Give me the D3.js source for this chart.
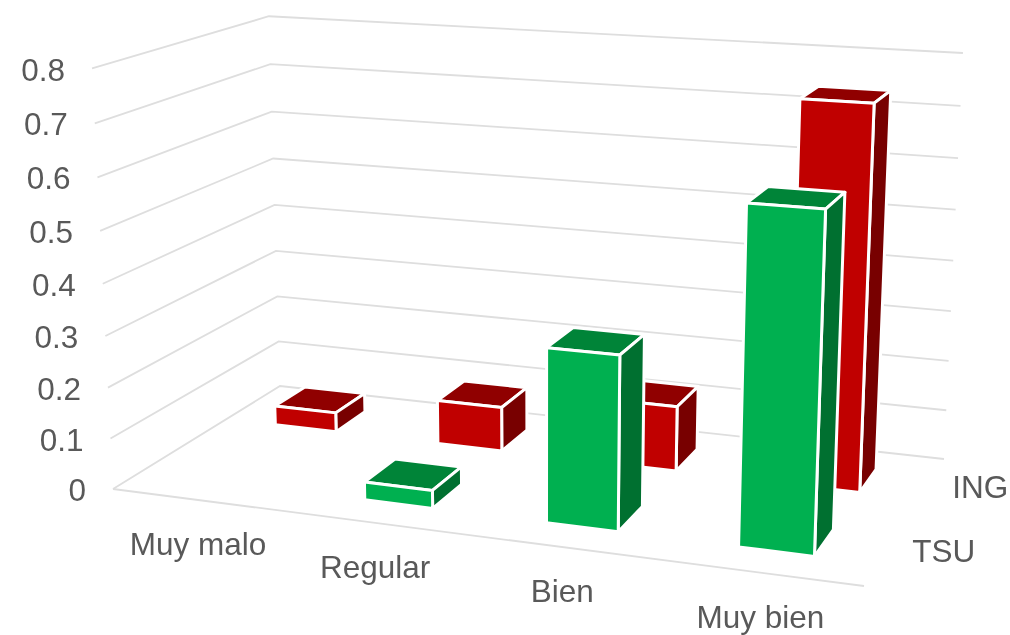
<!DOCTYPE html>
<html>
<head>
<meta charset="utf-8">
<script src="https://cdn.jsdelivr.net/npm/d3@7"></script>
<style>
  html, body { margin: 0; padding: 0; background: white; }
  svg { filter: blur(0.5px); }
  text { font-family: 'Liberation Sans', Arial, sans-serif; font-size: 31.5px; fill: #595959; }
</style>
</head>
<body>
<div id="chart"></div>
<script>
const categories = ['Muy malo', 'Regular', 'Bien', 'Muy bien']
const seriesNames = ['TSU', 'ING']
const tsuValues = [0, 0.035, 0.33, 0.62]
const ingValues = [0.04, 0.09, 0.13, 0.74]
const tickValues = [0, 0.1, 0.2, 0.3, 0.4, 0.5, 0.6, 0.7, 0.8]

const width = 1010
const height = 635

const seriesColors = {
  TSU: { front: '#00b050', top: '#008438', side: '#007030' },
  ING: { front: '#c00000', top: '#900000', side: '#780000' }
}

const svg = d3
  .select('#chart')
  .append('svg')
  .attr('width', width)
  .attr('height', height)
  .style('display', 'block')

// plain gaussian elimination, good enough for these small systems
function solve(A, b) {
  const m = A.map((row, i) => [...row, b[i]])
  const n = b.length
  for (let i = 0; i < n; i++) {
    let best = i
    for (let r = i + 1; r < n; r++) {
      if (Math.abs(m[r][i]) > Math.abs(m[best][i])) best = r
    }
    ;[m[i], m[best]] = [m[best], m[i]]
    for (let r = 0; r < n; r++) {
      if (r === i) continue
      const f = m[r][i] / m[i][i]
      for (let c = i; c <= n; c++) m[r][c] -= f * m[i][c]
    }
  }
  return m.map((row, i) => row[n] / row[i])
}

// camera: floor corners and wall tops as they sit on the screen
const floorCorners = [
  [0, 0, 113, 489],
  [1, 0, 864, 586],
  [1, 1, 944, 459],
  [0, 1, 280, 386]
]
const topCorners = [
  [0, 0, 93, 70],
  [0, 1, 268, 14],
  [1, 1, 963, 54]
]

const floorA = []
const floorB = []
floorCorners.forEach(([u, w, X, Y]) => {
  floorA.push([u, w, 1, 0, 0, 0, -X * u, -X * w])
  floorB.push(X)
  floorA.push([0, 0, 0, u, w, 1, -Y * u, -Y * w])
  floorB.push(Y)
})
const H = solve(floorA, floorB)
const floorHomog = (u, w) => [
  H[0] * u + H[1] * w + H[2],
  H[3] * u + H[4] * w + H[5],
  H[6] * u + H[7] * w + 1
]

// vertical column of the projection, least squares over the wall tops
const rows = []
const rhs = []
topCorners.forEach(([u, w, X, Y]) => {
  const n = floorHomog(u, w)
  rows.push([1, 0, -X])
  rhs.push(X * n[2] - n[0])
  rows.push([0, 1, -Y])
  rhs.push(Y * n[2] - n[1])
})
const ata = [0, 1, 2].map(i => [0, 1, 2].map(j => d3.sum(rows, r => r[i] * r[j])))
const atb = [0, 1, 2].map(i => d3.sum(rows, (r, k) => r[i] * rhs[k]))
const V = solve(ata, atb)

function project(u, w, v) {
  const n = floorHomog(u, w)
  const z = n[2] + v * V[2]
  return [(n[0] + v * V[0]) / z, (n[1] + v * V[1]) / z]
}

const uScale = d3
  .scaleBand()
  .domain(categories)
  .range([0, 1])
  .paddingInner(0.62)
  .paddingOuter(0.31)

const wScale = d3
  .scaleBand()
  .domain(seriesNames)
  .range([0, 1])
  .paddingInner(0.6)
  .paddingOuter(0.3)

const vScale = d3
  .scaleLinear()
  .domain([0, 0.8])
  .range([0, 1])

const line = d3.line()

// gridlines
const grid = svg.append('g')
grid
  .selectAll('path')
  .data(tickValues)
  .enter()
  .append('path')
  .attr('d', d => {
    const v = vScale(d)
    return line([project(0, 0, v), project(0, 1, v), project(1, 1, v)])
  })
  .attr('fill', 'none')
  .attr('stroke', '#dedede')
  .attr('stroke-width', 1.8)

grid
  .append('path')
  .attr('d', line([project(0, 0, 0), project(1, 0, 0)]))
  .attr('fill', 'none')
  .attr('stroke', '#dedede')
  .attr('stroke-width', 1.8)

// bars, back series first
const barData = []
ingValues.forEach((d, i) => barData.push({ series: 'ING', category: categories[i], value: d }))
tsuValues.forEach((d, i) => barData.push({ series: 'TSU', category: categories[i], value: d }))

const bars = svg
  .append('g')
  .selectAll('g')
  .data(barData.filter(d => d.value > 0))
  .enter()
  .append('g')

function faces(d) {
  const u0 = uScale(d.category)
  const u1 = u0 + uScale.bandwidth()
  const w0 = wScale(d.series)
  const w1 = w0 + wScale.bandwidth()
  const v = vScale(d.value)
  return [
    { name: 'top', pts: [[u0, w0, v], [u1, w0, v], [u1, w1, v], [u0, w1, v]], series: d.series },
    { name: 'side', pts: [[u1, w0, 0], [u1, w1, 0], [u1, w1, v], [u1, w0, v]], series: d.series },
    { name: 'front', pts: [[u0, w0, 0], [u1, w0, 0], [u1, w0, v], [u0, w0, v]], series: d.series }
  ]
}

bars
  .selectAll('path')
  .data(faces)
  .enter()
  .append('path')
  .attr('d', d => line(d.pts.map(p => project(p[0], p[1], p[2]))) + 'Z')
  .attr('fill', d => seriesColors[d.series][d.name])
  .attr('stroke', 'white')
  .attr('stroke-width', 3)
  .attr('stroke-linejoin', 'round')

// value labels
svg
  .append('g')
  .selectAll('text')
  .data(tickValues)
  .enter()
  .append('text')
  .attr('x', d => project(0, 0, vScale(d))[0] - 27)
  .attr('y', d => project(0, 0, vScale(d))[1] + 1)
  .attr('dy', '0.35em')
  .attr('text-anchor', 'end')
  .text(d => d)

// category labels sit below the front floor edge
svg
  .append('g')
  .selectAll('text')
  .data(categories)
  .enter()
  .append('text')
  .attr('x', d => project(uScale(d) + uScale.bandwidth() / 2, 0, 0)[0])
  .attr('y', d => project(uScale(d) + uScale.bandwidth() / 2, 0, 0)[1] + 44)
  .attr('dy', '0.35em')
  .attr('text-anchor', 'middle')
  .text(d => d)

// series labels
svg
  .append('g')
  .selectAll('text')
  .data(seriesNames)
  .enter()
  .append('text')
  .attr('x', d => project(1, wScale(d) + wScale.bandwidth() / 2, 0)[0] + 26)
  .attr('y', d => project(1, wScale(d) + wScale.bandwidth() / 2, 0)[1])
  .attr('dy', '0.35em')
  .text(d => d)
</script>
</body>
</html>
